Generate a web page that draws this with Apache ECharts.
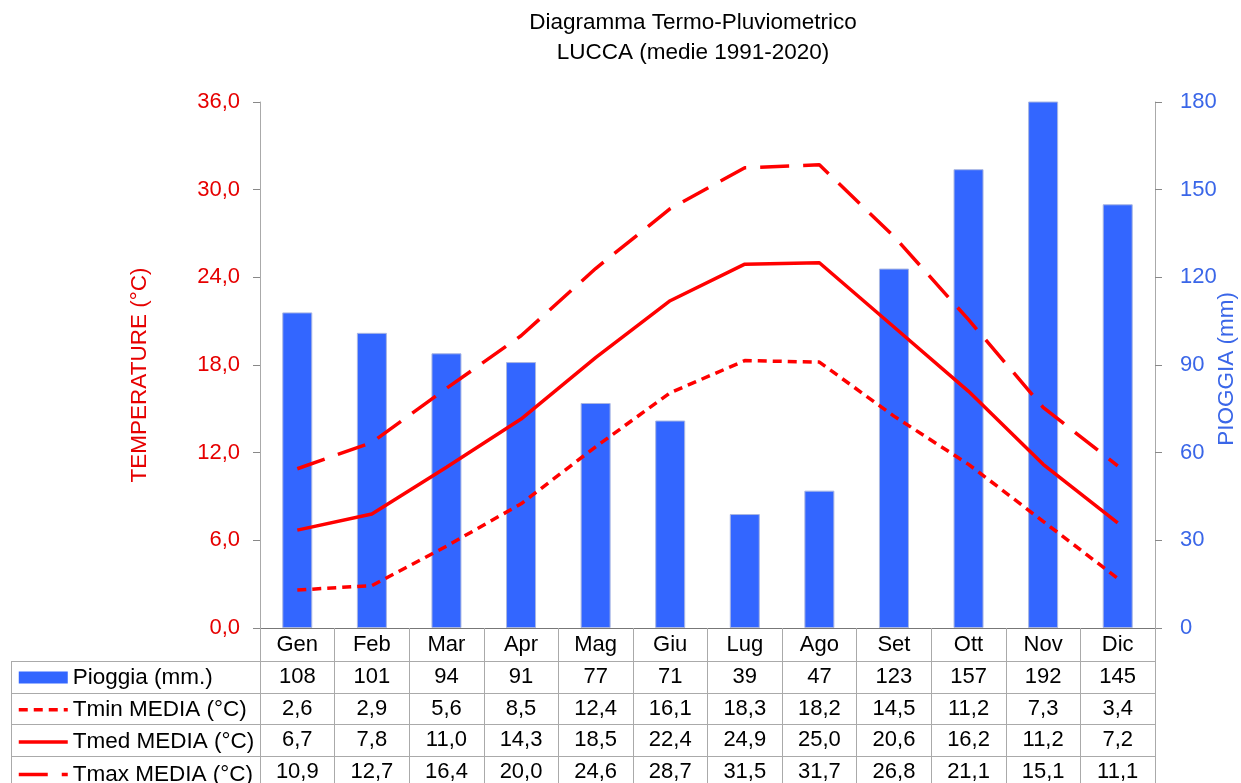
<!DOCTYPE html>
<html>
<head>
<meta charset="utf-8">
<script src="https://cdn.jsdelivr.net/npm/echarts@6/dist/echarts.min.js"></script>
<style>html,body{margin:0;padding:0;background:#fff}#c{width:1241px;height:783px}</style>
</head>
<body>
<div id="c"></div>
<script>
const months = ['Gen','Feb','Mar','Apr','Mag','Giu','Lug','Ago','Set','Ott','Nov','Dic'];
const rain = [108,101,94,91,77,71,39,47,123,157,192,145];
const tmin = [2.6,2.9,5.6,8.5,12.4,16.1,18.3,18.2,14.5,11.2,7.3,3.4];
const tmed = [6.7,7.8,11.0,14.3,18.5,22.4,24.9,25.0,20.6,16.2,11.2,7.2];
const tmax = [10.9,12.7,16.4,20.0,24.6,28.7,31.5,31.7,26.8,21.1,15.1,11.1];
const seriesNames = ['Pioggia (mm.)','Tmin MEDIA (°C)','Tmed MEDIA (°C)','Tmax MEDIA (°C)'];
const titleLines = ['Diagramma Termo-Pluviometrico','LUCCA (medie 1991-2020)'];
const tempAxisName = 'TEMPERATURE (°C)';
const rainAxisName = 'PIOGGIA (mm)';

const FONT = "'Liberation Sans', Arial, Helvetica, sans-serif";
const RED = '#ff0000';
const RED_TXT = '#e60000';
const BLUE = '#3366ff';
const BLUE_TXT = '#3a66e8';
const GRID_L = 260, GRID_R = 1155, GRID_T = 102, GRID_B = 628;
const fmt1 = v => v.toFixed(1).replace('.', ',');
const LW = 3.5;
const DASH_MIN = [9, 6];
const DASH_MAX = [29, 14];

const chart = echarts.init(document.getElementById('c'), null, {renderer: 'canvas'});

function tableAxis(values, offset) {
  return {
    type: 'category', gridIndex: 0, position: 'bottom', offset: offset,
    data: values,
    axisLine: {show: false}, axisTick: {show: false}, splitLine: {show: false},
    axisLabel: {show: true, interval: 0, margin: 6, color: '#000', fontFamily: FONT, fontSize: 22}
  };
}

const tableLineColor = '#aaaaaa';
const hLines = [661, 693, 724, 756].map(y => ({
  type: 'line', silent: true,
  shape: {x1: 11, y1: y + 0.5, x2: GRID_R, y2: y + 0.5},
  style: {stroke: tableLineColor, lineWidth: 1}
}));
hLines.push({
  type: 'line', silent: true,
  shape: {x1: 11.5, y1: 661, x2: 11.5, y2: 783},
  style: {stroke: tableLineColor, lineWidth: 1}
});

const option = {
  backgroundColor: '#fff',
  animation: false,
  textStyle: {fontFamily: FONT},
  title: {
    text: titleLines.join('\n'),
    left: 693, top: 8, padding: 0, textAlign: 'center',
    textStyle: {fontFamily: FONT, fontSize: 22.5, fontWeight: 'normal', color: '#000', lineHeight: 30}
  },
  legend: {
    orient: 'vertical', left: 17, top: 666, height: 300, padding: 0,
    itemWidth: 49, itemHeight: 12, itemGap: 9.3,
    selectedMode: false,
    data: [
      {name: seriesNames[0], icon: 'rect', itemStyle: {color: BLUE, borderWidth: 0}},
      {name: seriesNames[1], itemStyle: {opacity: 0}, lineStyle: {width: LW, type: DASH_MIN, color: RED}},
      {name: seriesNames[2], itemStyle: {opacity: 0}, lineStyle: {width: LW, type: 'solid', color: RED}},
      {name: seriesNames[3], itemStyle: {opacity: 0}, lineStyle: {width: LW, type: DASH_MAX, color: RED}}
    ],
    textStyle: {fontFamily: FONT, fontSize: 22.5, color: '#000', lineHeight: 22, padding: [0, 0, 0, 0]}
  },
  grid: {left: GRID_L, right: 1241 - GRID_R, top: GRID_T, bottom: 783 - GRID_B, containLabel: false, outerBoundsMode: 'none'},
  xAxis: [
    {
      type: 'category', data: months, position: 'bottom',
      axisLine: {show: true, lineStyle: {color: '#777', width: 1}},
      axisTick: {show: true, alignWithLabel: false, length: 160, lineStyle: {color: tableLineColor, width: 1}},
      axisLabel: {interval: 0, margin: 6, color: '#000', fontFamily: FONT, fontSize: 22},
      splitLine: {show: false}
    },
    tableAxis(rain.map(String), 32),
    tableAxis(tmin.map(fmt1), 64),
    tableAxis(tmed.map(fmt1), 95),
    tableAxis(tmax.map(fmt1), 127)
  ],
  yAxis: [
    {
      type: 'value', min: 0, max: 36, interval: 6, position: 'left',
      name: tempAxisName, nameLocation: 'middle', nameGap: 109, nameRotate: 90, nameMoveOverlap: false,
      nameTextStyle: {color: RED_TXT, fontFamily: FONT, fontSize: 22.5, padding: [0, 20, 0, 0]},
      axisLine: {show: true, lineStyle: {color: '#aaa', width: 1}},
      axisTick: {show: true, length: 7, lineStyle: {color: '#888'}},
      axisLabel: {margin: 20, color: RED_TXT, fontFamily: FONT, fontSize: 22, formatter: v => fmt1(v)},
      splitLine: {show: false}
    },
    {
      type: 'value', min: 0, max: 180, interval: 30, position: 'right',
      name: rainAxisName, nameLocation: 'middle', nameGap: 60, nameRotate: 90, nameMoveOverlap: false,
      nameTextStyle: {color: BLUE_TXT, fontFamily: FONT, fontSize: 22.5, padding: [0, 8, 0, 0]},
      axisLine: {show: true, lineStyle: {color: '#aaa', width: 1}},
      axisTick: {show: true, length: 7, lineStyle: {color: '#888'}},
      axisLabel: {margin: 25, color: BLUE_TXT, fontFamily: FONT, fontSize: 22},
      splitLine: {show: false}
    }
  ],
  series: [
    {
      name: seriesNames[0], type: 'bar', xAxisIndex: 0, yAxisIndex: 1, data: rain,
      barWidth: 30, clip: true, z: 2,
      itemStyle: {color: BLUE, borderColor: '#a9b6e2', borderWidth: 1}
    },
    {
      name: seriesNames[1], type: 'line', xAxisIndex: 0, yAxisIndex: 0, data: tmin,
      symbol: 'none', z: 3,
      lineStyle: {color: RED, width: LW, type: DASH_MIN}, itemStyle: {color: RED}
    },
    {
      name: seriesNames[2], type: 'line', xAxisIndex: 0, yAxisIndex: 0, data: tmed,
      symbol: 'none', z: 3,
      lineStyle: {color: RED, width: LW, type: 'solid'}, itemStyle: {color: RED}
    },
    {
      name: seriesNames[3], type: 'line', xAxisIndex: 0, yAxisIndex: 0, data: tmax,
      symbol: 'none', z: 3,
      lineStyle: {color: RED, width: LW, type: DASH_MAX}, itemStyle: {color: RED}
    }
  ],
  graphic: hLines
};
chart.setOption(option);
</script>
</body>
</html>
